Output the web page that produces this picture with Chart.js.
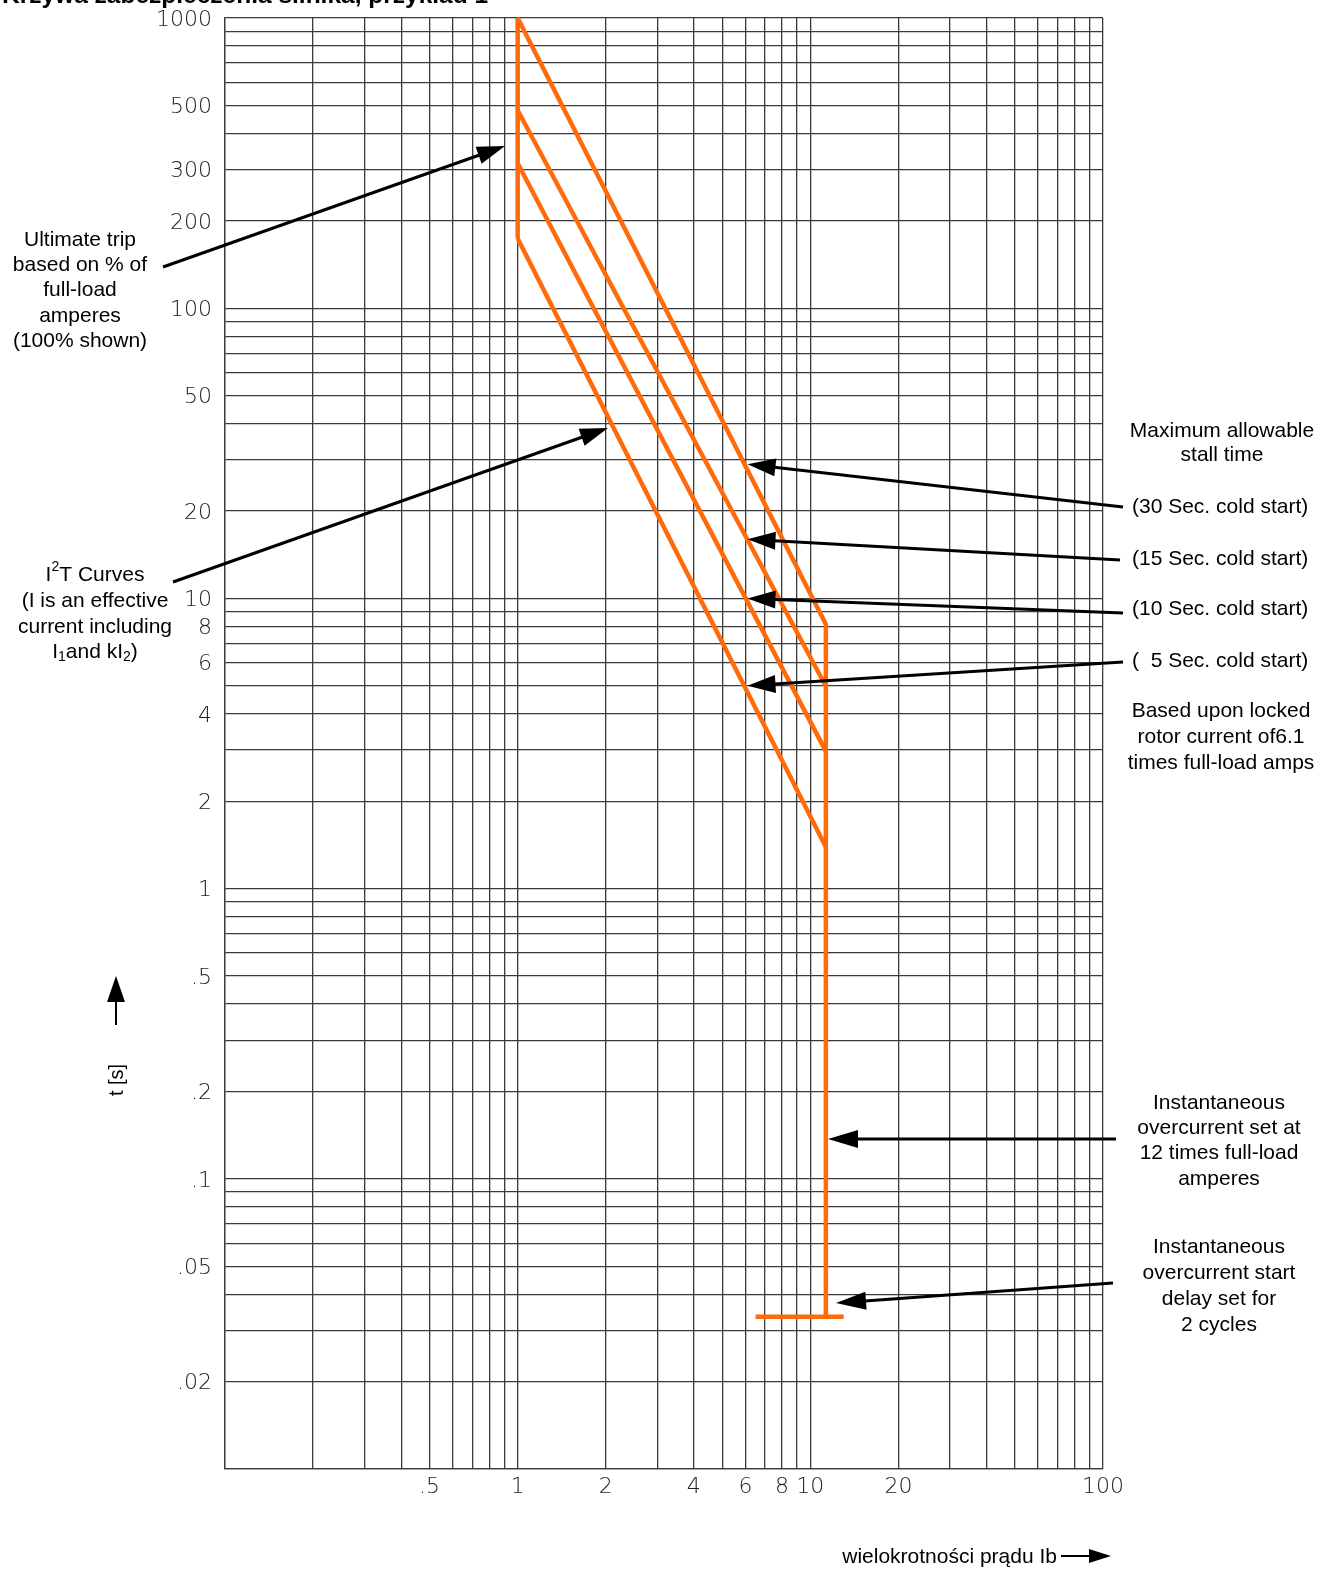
<!DOCTYPE html>
<html>
<head>
<meta charset="utf-8">
<script src="https://cdn.jsdelivr.net/npm/chart.js@4.4.1/dist/chart.umd.min.js"></script>
<style>
  html, body { margin: 0; padding: 0; background: #fff; }
  #wrap { position: relative; width: 1324px; height: 1570px; }
</style>
</head>
<body>
<div id="wrap"><canvas id="chart"></canvas></div>
<script>
// siatka logarytmiczna i opisy osi
const xDecades = [0.1, 1, 10];
const yDecades = [0.01, 0.1, 1, 10, 100];
const xTickValues = [0.5, 1, 2, 4, 6, 8, 10, 20, 100];
const xTickLabels = ['.5', '1', '2', '4', '6', '8', '10', '20', '100'];
const yTickValues = [1000, 500, 300, 200, 100, 50, 20, 10, 8, 6, 4, 2, 1, 0.5, 0.2, 0.1, 0.05, 0.02];
const yTickLabels = ['1000', '500', '300', '200', '100', '50', '20', '10', '8', '6', '4', '2', '1', '.5', '.2', '.1', '.05', '.02'];

// krzywe (wielokrotnosc Ib -> czas w s)
const tripCurrent = [1, 1];
const tripTime = [174, 1000];
const i2tCurrent = [1, 11.3];
const i2t30 = [1000, 8.15];
const i2t15 = [481, 4.98];
const i2t10 = [316, 2.97];
const i2t5 = [174, 1.39];
const instCurrent = [11.3, 11.3];
const instTime = [8.15, 0.0335];
const delayCurrent = [6.5, 13];
const delayTime = [0.0335, 0.0335];

// punkty wskazywane strzalkami
const stallCurrent = 6.1;
const stallTimes = [29, 16, 10, 5];
const stallLabels = ['(30 Sec. cold start)', '(15 Sec. cold start)', '(10 Sec. cold start)', '(  5 Sec. cold start)'];

const orange = '#ff6a0a';
const gridColor = '#3a3a3a';

function grid(decades, last) {
  const out = [];
  decades.forEach(d => { for (let k = 1; k <= 9; k++) out.push(+(d * k).toPrecision(3)); });
  out.push(last);
  return out;
}

function labelFor(v, values, labels) {
  const i = values.findIndex(t => Math.abs(t - v) / t < 1e-6);
  return i < 0 ? '' : labels[i];
}

function pts(xs, ys) {
  return xs.map((x, i) => ({x: x, y: ys[i]}));
}

const outline = [...pts(tripCurrent, tripTime), ...pts(i2tCurrent, i2t30), ...pts(instCurrent, instTime)]
  .filter((p, i, a) => i === 0 || p.x !== a[i - 1].x || p.y !== a[i - 1].y);

function curve(data) {
  return {
    data: data, showLine: true, borderColor: orange, borderWidth: 4.5,
    pointRadius: 0, clip: false, borderJoinStyle: 'bevel', borderCapStyle: 'butt'
  };
}

function arrow(ctx, x1, y1, x2, y2, len, half, lw) {
  const a = Math.atan2(y2 - y1, x2 - x1);
  const bx = x2 - len * Math.cos(a), by = y2 - len * Math.sin(a);
  ctx.lineWidth = lw;
  ctx.beginPath(); ctx.moveTo(x1, y1); ctx.lineTo(bx + Math.cos(a), by + Math.sin(a)); ctx.stroke();
  ctx.beginPath();
  ctx.moveTo(x2, y2);
  ctx.lineTo(bx + half * Math.sin(a), by - half * Math.cos(a));
  ctx.lineTo(bx - half * Math.sin(a), by + half * Math.cos(a));
  ctx.closePath(); ctx.fill();
}

const FONT = '"Liberation Sans", Arial, sans-serif';

function lines(ctx, arr, x, y0, step) {
  ctx.textAlign = 'center';
  arr.forEach((t, i) => ctx.fillText(t, x, y0 + i * step));
}

// linia z indeksami dolnymi / gornymi
function richLine(ctx, runs, cx, y) {
  const big = '21px ' + FONT, small = '14px ' + FONT;
  let w = 0;
  runs.forEach(r => { ctx.font = (r.sub || r.sup) ? small : big; w += ctx.measureText(r.t).width; });
  let x = cx - w / 2;
  ctx.textAlign = 'left';
  runs.forEach(r => {
    ctx.font = (r.sub || r.sup) ? small : big;
    const dy = r.sub ? 5 : (r.sup ? -8 : 0);
    ctx.fillText(r.t, x, y + dy);
    x += ctx.measureText(r.t).width;
  });
  ctx.font = big;
}

const notes = {
  id: 'notes',
  afterDraw(chart) {
    const ctx = chart.ctx;
    const xs = chart.scales.x, ys = chart.scales.y;
    ctx.save();
    ctx.fillStyle = '#000';
    ctx.strokeStyle = '#000';
    ctx.textBaseline = 'alphabetic';

    ctx.font = 'bold 24.5px ' + FONT;
    ctx.textAlign = 'left';
    ctx.fillText('Krzywa zabezpieczenia silnika, przykład 1', 2, 3);

    ctx.font = '21px ' + FONT;
    ctx.textBaseline = 'middle';
    lines(ctx, ['Ultimate trip', 'based on % of', 'full-load', 'amperes', '(100% shown)'], 80, 240, 25.3);
    arrow(ctx, 163, 267, 505, 146, 28, 9, 3);

    richLine(ctx, [{t: 'I'}, {t: '2', sup: 1}, {t: 'T Curves'}], 95, 575);
    lines(ctx, ['(I is an effective', 'current including'], 95, 601, 26);
    richLine(ctx, [{t: 'I'}, {t: '1', sub: 1}, {t: 'and kI'}, {t: '2', sub: 1}, {t: ')'}], 95, 652);
    arrow(ctx, 173, 582, 608, 428, 28, 9, 3);

    lines(ctx, ['Maximum allowable', 'stall time'], 1222, 431, 24.5);
    const tails = [[1123, 507], [1120, 560], [1123, 613], [1123, 662]];
    const labY = [507, 559, 609, 661];
    stallTimes.forEach((t, i) => {
      ctx.textAlign = 'left';
      ctx.fillText(stallLabels[i], 1132, labY[i]);
      arrow(ctx, tails[i][0], tails[i][1], xs.getPixelForValue(stallCurrent), ys.getPixelForValue(t), 28, 9, 3);
    });
    lines(ctx, ['Based upon locked', 'rotor current of6.1', 'times full-load amps'], 1221, 711, 26);

    lines(ctx, ['Instantaneous', 'overcurrent set at', '12 times full-load', 'amperes'], 1219, 1103, 25.3);
    arrow(ctx, 1116, 1139, 828, 1139, 30, 9, 3);
    lines(ctx, ['Instantaneous', 'overcurrent start', 'delay set for', '2 cycles'], 1219, 1247, 26);
    arrow(ctx, 1113, 1283, 836, 1303, 30, 9, 3);

    // opis osi X
    ctx.textAlign = 'right';
    ctx.fillText('wielokrotności prądu Ib', 1057, 1557);
    arrow(ctx, 1061, 1556, 1111, 1556, 22, 7, 2);

    // opis osi Y
    ctx.save();
    ctx.translate(117, 1080);
    ctx.rotate(-Math.PI / 2);
    ctx.textAlign = 'center';
    ctx.font = '20px ' + FONT;
    ctx.fillText('t [s]', 0, 0);
    ctx.restore();
    arrow(ctx, 116, 1025, 116, 976, 26, 9, 2);

    ctx.restore();
  }
};

const tickFont = {family: "'DejaVu Sans', sans-serif", size: 22, weight: 200};

new Chart(document.getElementById('chart'), {
  type: 'scatter',
  data: {
    datasets: [
      curve(outline),
      curve(pts(i2tCurrent, i2t15)),
      curve(pts(i2tCurrent, i2t10)),
      curve(pts(i2tCurrent, i2t5)),
      curve(pts(delayCurrent, delayTime))
    ]
  },
  options: {
    responsive: true,
    maintainAspectRatio: false,
    animation: false,
    events: [],
    layout: {padding: {left: 0, right: 221, top: 18, bottom: 0}},
    plugins: {legend: {display: false}, tooltip: {enabled: false}},
    scales: {
      x: {
        type: 'logarithmic', min: 0.1, max: 100,
        afterBuildTicks: s => { s.ticks = grid(xDecades, 100).map(v => ({value: v})); },
        afterFit: s => { s.height = 101; },
        grid: {color: gridColor, lineWidth: 1.3, drawTicks: false},
        border: {color: gridColor, width: 1.3},
        ticks: {
          autoSkip: false, maxRotation: 0, padding: 5, color: '#222', font: tickFont,
          callback: v => labelFor(v, xTickValues, xTickLabels)
        }
      },
      y: {
        type: 'logarithmic', min: 0.01, max: 1000,
        afterBuildTicks: s => { s.ticks = grid(yDecades, 1000).map(v => ({value: v})); },
        afterFit: s => { s.width = 225; s.paddingTop = 0; s.paddingBottom = 0; },
        grid: {color: gridColor, lineWidth: 1.3, drawTicks: false},
        border: {color: gridColor, width: 1.3},
        ticks: {
          autoSkip: false, padding: 13, labelOffset: 2, color: '#222', font: tickFont,
          callback: v => labelFor(v, yTickValues, yTickLabels)
        }
      }
    }
  },
  plugins: [notes]
});
</script>
</body>
</html>
